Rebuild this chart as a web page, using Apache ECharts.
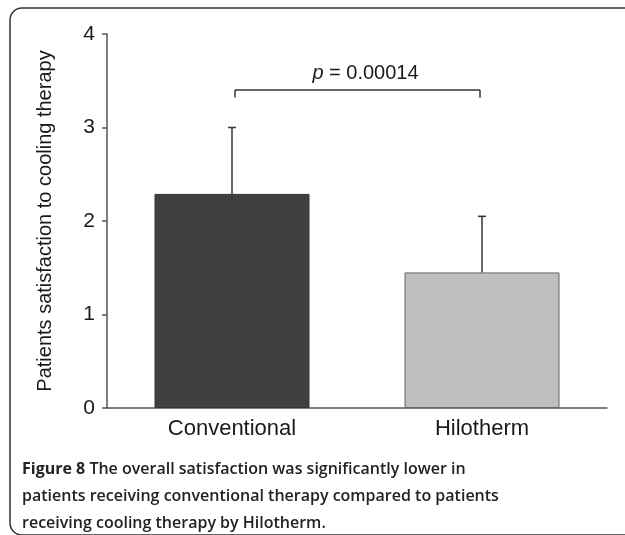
<!DOCTYPE html>
<html><head><meta charset="utf-8">
<script src="https://cdn.jsdelivr.net/npm/echarts@6/dist/echarts.min.js"></script>
<style>html,body{margin:0;padding:0;background:#fff}#c{width:625px;height:535px}</style>
</head><body><div id="c"></div>
<script>
var categories = ['Conventional', 'Hilotherm'];
var means = [2.29, 1.45];
var sds = [0.71, 0.60];
var yTicks = [0, 1, 2, 3, 4];
var barColors = ['#404040', '#bfbfbf'];
var bracket = [[0, 1, 3.40, 3.32]];
var pLabel = 'p = 0.00014';

var chart = echarts.init(document.getElementById('c'));
var errData = categories.map(function (c, i) { return [i, means[i], means[i] + sds[i]]; });
var FF = 'Liberation Sans, Arial, sans-serif';

chart.setOption({
  animation: false,
  grid: { left: 107, right: 18, top: 34, bottom: 127 },
  xAxis: {
    type: 'category', data: categories,
    axisLine: { lineStyle: { color: '#555', width: 1.5 } },
    axisTick: { show: false },
    axisLabel: { color: '#1a1a1a', fontSize: 22, fontFamily: FF, margin: 10 }
  },
  yAxis: {
    type: 'value', min: yTicks[0], max: yTicks[yTicks.length - 1], interval: 1,
    name: 'Patients satisfaction to cooling therapy', nameLocation: 'middle', nameGap: 52,
    nameTextStyle: { color: '#1a1a1a', fontSize: 20, fontFamily: FF },
    axisLine: { show: true, lineStyle: { color: '#555', width: 1.5 } },
    axisTick: { show: true, length: 5, lineStyle: { color: '#555', width: 1.5 } },
    splitLine: { show: false },
    axisLabel: { color: '#1a1a1a', fontSize: 21, fontFamily: FF, margin: 12 }
  },
  series: [
    {
      type: 'bar', barWidth: '62%',
      data: means.map(function (v, i) {
        return { value: v, itemStyle: { color: barColors[i], borderColor: i === 1 ? '#666' : '#333', borderWidth: 1 } };
      }),
      z: 2
    },
    {
      type: 'custom', z: 1,
      data: errData,
      renderItem: function (params, api) {
        var x = api.coord([api.value(0), api.value(1)]);
        var top = api.coord([api.value(0), api.value(2)]);
        var hw = 4;
        return {
          type: 'group', children: [
            { type: 'line', shape: { x1: x[0], y1: x[1], x2: top[0], y2: top[1] }, style: { stroke: '#333', lineWidth: 1.5 } },
            { type: 'line', shape: { x1: top[0] - hw, y1: top[1], x2: top[0] + hw, y2: top[1] }, style: { stroke: '#333', lineWidth: 1.5 } }
          ]
        };
      }
    },
    {
      type: 'custom', z: 3,
      data: bracket,
      renderItem: function (params, api) {
        var a = api.coord([api.value(0), api.value(2)]);
        var b = api.coord([api.value(1), api.value(2)]);
        var d = api.coord([api.value(0), api.value(3)]);
        a[0] += 3; b[0] -= 2;
        var st = { stroke: '#333', lineWidth: 1.5 };
        return {
          type: 'group', children: [
            { type: 'line', shape: { x1: a[0], y1: a[1], x2: b[0], y2: b[1] }, style: st },
            { type: 'line', shape: { x1: a[0], y1: a[1], x2: a[0], y2: d[1] }, style: st },
            { type: 'line', shape: { x1: b[0], y1: b[1], x2: b[0], y2: d[1] }, style: st },
            { type: 'text', x: (a[0] + b[0]) / 2 + 8, y: a[1] - 7,
              style: { text: '{i|p} = 0.00014', rich: { i: { fontStyle: 'italic', fontSize: 20, fontFamily: FF, fill: '#1a1a1a' } },
                fontSize: 20, fontFamily: FF, fill: '#1a1a1a', align: 'center', verticalAlign: 'bottom' } }
          ]
        };
      }
    }
  ],
  graphic: [
    { type: 'rect', shape: { x: 10, y: 8, width: 640, height: 527, r: 12 }, style: { fill: 'none', stroke: '#333', lineWidth: 1.5 }, silent: true },
    { type: 'text', left: 22, top: 456, style: {
      text: '{b|Figure 8} The overall satisfaction was significantly lower in\npatients receiving conventional therapy compared to patients\nreceiving cooling therapy by Hilotherm.',
      fontSize: 16, fontWeight: 600, fontFamily: 'Open Sans, Noto Sans, sans-serif', fill: '#222', lineHeight: 27,
      rich: { b: { fontWeight: 'bold', fontSize: 16, fontFamily: 'Open Sans, Noto Sans, sans-serif', fill: '#222' } }
    } }
  ]
});
</script></body></html>
